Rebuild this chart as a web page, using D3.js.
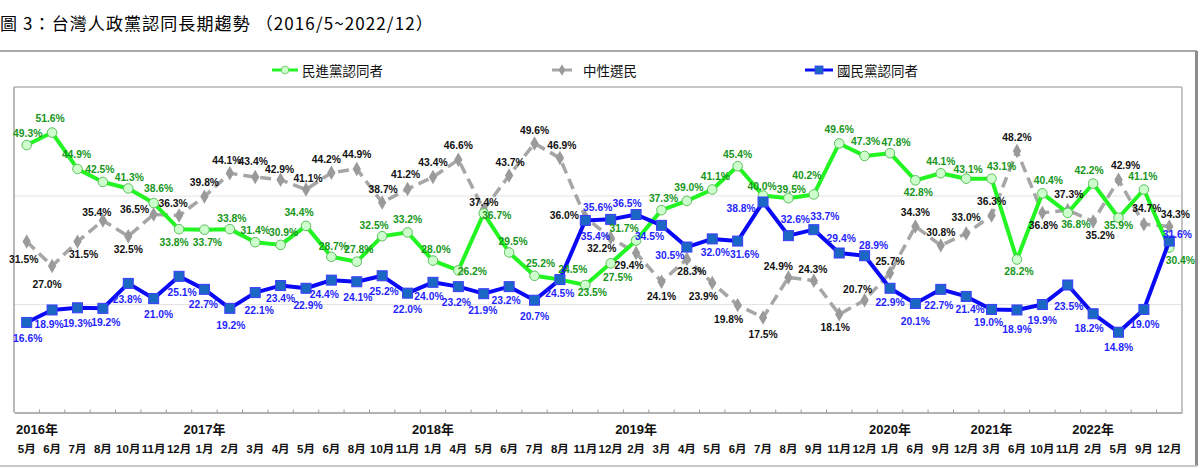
<!DOCTYPE html>
<html>
<head>
<meta charset="utf-8">
<script src="https://cdn.jsdelivr.net/npm/d3@7"></script>
<style>
  body { margin: 0; background: #fff; }
  svg { display: block; }
  .lbl { font-family: "Liberation Sans", Arial, sans-serif; font-weight: bold; font-size: 10.3px; }
  .cjk { font-family: "Noto Sans CJK TC", "Noto Sans CJK SC", sans-serif; }
</style>
</head>
<body>
<svg id="chart" width="1200" height="468"></svg>
<script>
// categories (survey months)
let months = ['5月','6月','7月','8月','10月','11月','12月',
  '1月','2月','3月','4月','5月','6月','8月','10月','11月',
  '1月','4月','5月','6月','7月','8月','11月','12月',
  '2月','3月','4月','5月','6月','7月','8月','9月','11月','12月',
  '1月','6月','9月','12月',
  '3月','6月','10月','11月',
  '2月','5月','9月','12月']
let yearLabels = ['2016年','2017年','2018年','2019年','2020年','2021年','2022年']
let yearStart = [0, 7, 16, 24, 34, 38, 42]

// series values (%)
let dpp = [49.3,51.6,44.9,42.5,41.3,38.6,33.8,33.7,33.8,31.4,30.9,34.4,28.7,27.8,32.5,33.2,
  28.0,26.2,36.7,29.5,25.2,24.5,23.5,27.5,31.7,37.3,39.0,41.1,45.4,40.0,39.5,40.2,49.6,47.3,
  47.8,42.8,44.1,43.1,43.1,28.2,40.4,36.8,42.2,35.9,41.1,30.4]
let neutral = [31.5,27.0,31.5,35.4,32.5,36.5,36.3,39.8,44.1,43.4,42.9,41.1,44.2,44.9,38.7,41.2,
  43.4,46.6,37.4,43.7,49.6,46.9,36.0,32.2,29.4,24.1,28.3,23.9,19.8,17.5,24.9,24.3,18.1,20.7,
  25.7,34.3,30.8,33.0,36.3,48.2,36.8,37.3,35.2,42.9,34.7,34.3]
let kmt = [16.6,18.9,19.3,19.2,23.8,21.0,25.1,22.7,19.2,22.1,23.4,22.9,24.4,24.1,25.2,22.0,
  24.0,23.2,21.9,23.2,20.7,24.5,35.4,35.6,36.5,34.5,30.5,32.0,31.6,38.8,32.6,33.7,29.4,28.9,
  22.9,20.1,22.7,21.4,19.0,18.9,19.9,23.5,18.2,14.8,19.0,31.6]

// where each value label sits relative to its point [dx, dy]
let dppOff = [[1,-12],[-2,-14],[-1,-14],[-3,-12],[1,-11],[5,-15],[-5,13],[3,13],[2,-11],[0,-12],
  [3,-12],[-7,-13],[2,-10],[2,-12],[-8,-11],[0,-13],[3,-11],[14,1],[13,2],[4,-11],[6,-12],
  [13,-10],[7,7],[7,14],[-12,-12],[2,-12],[2,-13],[3,-13],[0,-12],[-1,-9],[3,-9],[-7,-19],
  [0,-14],[1,-14],[6,-11],[3,12],[0,-12],[2,-9],[10,-12],[2,12],[6,-13],[8,12],[-4,-13],
  [0,8],[-1,-13],[11,13]]
let neutralOff = [[-3,18],[-5,18],[6,13],[-6,-8],[0,13],[-19,-5],[-6,-12],[0,-14],[-3,-13],
  [-2,-16],[-1,-10],[2,-11],[-5,-13],[0,-14],[1,-13],[-2,-14],[0,-15],[0,-14],[0,-7],[1,-13],
  [0,-13],[2,-13],[-21,-2],[-9,11],[-7,12],[0,15],[5,13],[-9,14],[-9,14],[0,17],[-10,-11],
  [-1,-11],[-4,13],[-7,-11],[0,-12],[0,-14],[0,-13],[0,-16],[0,-14],[0,-14],[1,13],[1,-16],
  [7,14],[7,-14],[3,-16],[6,-12]]
let kmtOff = [[1,16],[-3,15],[0,16],[3,14],[-1,16],[5,16],[3,16],[-1,15],[1,17],[4,18],[0,13],
  [2,17],[-7,14],[1,16],[2,16],[0,16],[-4,14],[-2,16],[-1,17],[-3,14],[0,16],[0,14],[10,16],
  [-13,-12],[-9,-11],[-12,11],[-17,8],[3,14],[7,13],[-22,6],[7,-16],[11,-13],[2,-15],[9,-10],
  [0,14],[0,18],[-2,16],[4,13],[-3,13],[0,20],[0,16],[1,21],[-4,15],[0,15],[1,15],[8,-7]]

const svg = d3.select('#chart')
const plotLeft = 14, plotRight = 1182, plotTop = 87, plotBottom = 412.5

const x = d3.scaleBand().domain(d3.range(months.length)).range([plotLeft, plotRight])
const cx = i => x(i) + x.bandwidth() / 2
const y = d3.scaleLinear().domain([0, 60]).range([plotBottom, plotTop])

// title and frame
svg.append('text').attr('class', 'cjk')
  .attr('x', 0).attr('y', 30)
  .style('font-size', '17px').style('letter-spacing', '1.1px')
  .text('圖 3：台灣人政黨認同長期趨勢 （2016/5~2022/12）')

svg.append('line').attr('x1', 0).attr('x2', 1197).attr('y1', 51).attr('y2', 51)
  .attr('stroke', '#8c8c8c').attr('stroke-width', 1.5)
svg.append('line').attr('x1', 1196.5).attr('x2', 1196.5).attr('y1', 51).attr('y2', 466)
  .attr('stroke', '#8c8c8c').attr('stroke-width', 3)
svg.append('line').attr('x1', 0).attr('x2', 1197).attr('y1', 466).attr('y2', 466)
  .attr('stroke', '#c8c8c8').attr('stroke-width', 2)

// gridlines
svg.append('g')
  .attr('transform', `translate(${plotLeft},0)`)
  .call(d3.axisLeft(y).tickValues([20, 40]).tickSize(-(plotRight - plotLeft)).tickFormat(''))
  .call(g => g.select('.domain').remove())
  .call(g => g.selectAll('.tick line').attr('stroke', '#e4e4e4'))

// plot box
svg.append('line').attr('x1', plotLeft).attr('x2', plotRight).attr('y1', plotTop).attr('y2', plotTop).attr('stroke', '#8c8c8c')
svg.append('line').attr('x1', plotLeft).attr('x2', plotLeft).attr('y1', plotTop).attr('y2', plotBottom).attr('stroke', '#a0a0a0').attr('stroke-width', 1.5)
svg.append('line').attr('x1', plotRight).attr('x2', plotRight).attr('y1', plotTop).attr('y2', plotBottom).attr('stroke', '#c4c4c4').attr('stroke-width', 2)

// x axis
svg.append('g')
  .attr('transform', `translate(0,${plotBottom})`)
  .call(d3.axisBottom(x).tickSize(0).tickPadding(32).tickFormat(i => months[i]))
  .call(g => g.select('.domain').attr('stroke', '#9a9a9a').attr('stroke-width', 1.5))
  .call(g => g.selectAll('text')
    .attr('font-family', '"Liberation Sans", "Noto Sans CJK TC", sans-serif')
    .attr('font-weight', 'bold').attr('font-size', 11.5).attr('fill', '#111'))

svg.append('g').selectAll('line')
  .data(d3.range(1, months.length))
  .join('line')
  .attr('x1', i => x(i)).attr('x2', i => x(i))
  .attr('y1', plotBottom - 3).attr('y2', plotBottom)
  .attr('stroke', '#9a9a9a')

svg.append('g').selectAll('text')
  .data(yearLabels)
  .join('text')
  .attr('font-family', '"Liberation Sans", "Noto Sans CJK TC", sans-serif')
  .attr('font-weight', 'bold').attr('font-size', 13).attr('fill', '#111')
  .attr('text-anchor', 'middle')
  .attr('y', 434)
  .attr('x', (d, k) => cx(yearStart[k]))
  .text(d => d)
  .each(function () {
    let w = this.getComputedTextLength()
    let xx = +this.getAttribute('x')
    if (xx - w / 2 < plotLeft + 2) this.setAttribute('x', plotLeft + 2 + w / 2)
  })

// series
let series = [
  { name: '中性選民', vals: neutral, off: neutralOff, color: '#a6a6a6', dash: '11,6', width: 3.5,
    lblColor: '#111', mark: 'diamond' },
  { name: '民進黨認同者', vals: dpp, off: dppOff, color: '#22f522', dash: null, width: 4,
    lblColor: '#16961a', mark: 'circle' },
  { name: '國民黨認同者', vals: kmt, off: kmtOff, color: '#0a0af5', dash: null, width: 4,
    lblColor: '#1f1fff', mark: 'square' }
]

let line = d3.line().x((d, i) => cx(i)).y(d => y(d))

let drawMarker = (sel, mark) => {
  if (mark === 'circle') {
    sel.append('circle').attr('r', 4.8)
      .attr('fill', '#ccffcc').attr('stroke', '#5cbf5c').attr('stroke-width', 1)
  } else if (mark === 'square') {
    sel.append('rect').attr('x', -5).attr('y', -5).attr('width', 10).attr('height', 10)
      .attr('fill', '#1a68c4').attr('stroke', '#3b3bff').attr('stroke-width', 1)
  } else {
    sel.append('path').attr('d', d3.symbol(d3.symbolDiamond, 60)())
      .attr('fill', '#9a9a9a')
  }
}

series.forEach(s => {
  let g = svg.append('g')
  g.append('path')
    .datum(s.vals)
    .attr('d', line)
    .attr('fill', 'none')
    .attr('stroke', s.color)
    .attr('stroke-width', s.width)
    .attr('stroke-linejoin', 'round')
    .attr('stroke-dasharray', s.dash)
  g.selectAll('g.pt')
    .data(s.vals)
    .join('g')
    .attr('class', 'pt')
    .attr('transform', (d, i) => `translate(${cx(i)},${y(d)})`)
    .call(sel => drawMarker(sel, s.mark))
})

series.forEach(s => {
  svg.append('g').selectAll('text')
    .data(s.vals)
    .join('text')
    .attr('class', 'lbl')
    .attr('fill', s.lblColor)
    .attr('text-anchor', 'middle')
    .attr('dominant-baseline', 'central')
    .attr('x', (d, i) => cx(i) + s.off[i][0])
    .attr('y', (d, i) => y(d) + s.off[i][1])
    .text(d => d.toFixed(1) + '%')
})

// legend
let legendX = [272, 552, 805]
let legendLen = [26, 20, 28]
let legendOrder = [1, 0, 2]
legendOrder.forEach((si, k) => {
  let s = series[si]
  let g = svg.append('g').attr('transform', `translate(${legendX[k]},70)`)
  g.append('line').attr('x1', 0).attr('x2', legendLen[k]).attr('y1', 0).attr('y2', 0)
    .attr('stroke', s.color).attr('stroke-width', 3)
  let m = g.append('g')
  drawMarker(m, s.mark)
  m.attr('transform', `translate(${legendLen[k] / 2},0) scale(0.8)`)
  g.append('text').attr('class', 'cjk')
    .attr('x', legendLen[k] + (k === 1 ? 11 : 4)).attr('y', 0)
    .attr('dominant-baseline', 'central')
    .style('font-size', '13.5px').attr('fill', '#111')
    .text(s.name)
})
</script>
</body>
</html>
